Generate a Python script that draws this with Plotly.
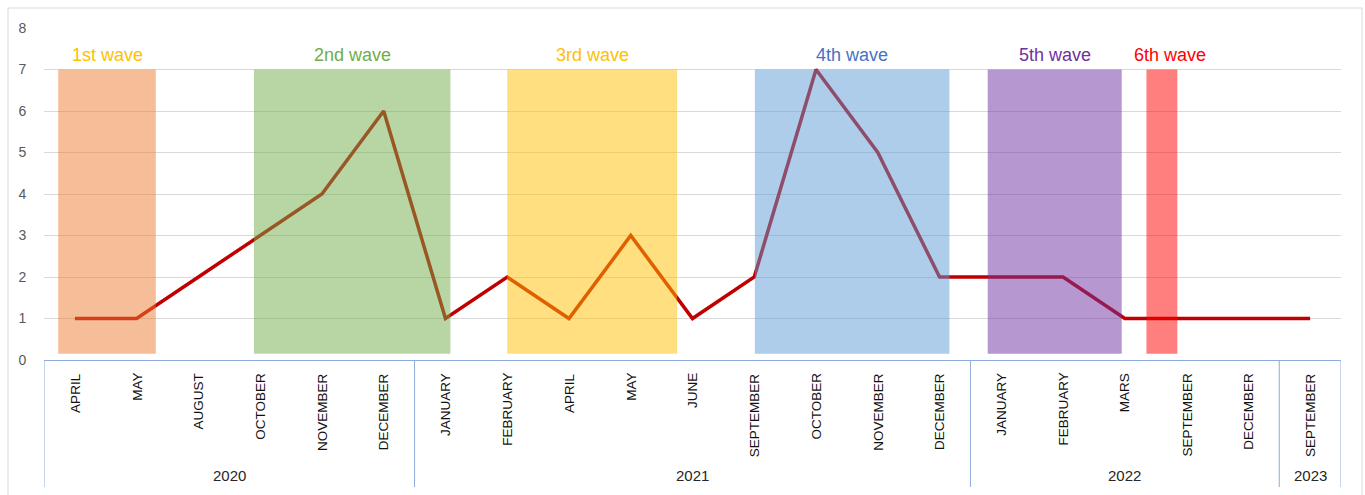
import plotly.graph_objects as go

# Monthly series, grouped by year
months = ["APRIL", "MAY", "AUGUST", "OCTOBER", "NOVEMBER", "DECEMBER",
          "JANUARY", "FEBRUARY", "APRIL", "MAY", "JUNE", "SEPTEMBER", "OCTOBER", "NOVEMBER", "DECEMBER",
          "JANUARY", "FEBRUARY", "MARS", "SEPTEMBER", "DECEMBER",
          "SEPTEMBER"]
years = ["2020"] * 6 + ["2021"] * 9 + ["2022"] * 5 + ["2023"] * 1
values = [1, 1, 2, 3, 4, 6,
          1, 2, 1, 3, 1, 2, 7, 5, 2,
          2, 2, 1, 1, 1,
          1]

# Epidemic waves, expressed on the category index scale
wave_names = ["1st wave", "2nd wave", "3rd wave", "4th wave", "5th wave", "6th wave"]
wave_start = [-0.27, 2.90, 7.00, 11.01, 14.78, 17.35]
wave_end = [1.31, 6.08, 9.75, 14.16, 16.95, 17.85]
wave_label_x = [None, None, None, None, None, 17.73]
wave_top = 7
wave_bottom = 0.15

wave_fill = ["#ED7D31", "#70AD47", "#FFC000", "#5B9BD5", "#7030A0", "#FF0000"]
wave_text = ["#FFC000", "#70AD47", "#FFC000", "#4472C4", "#7030A0", "#FF0000"]

W, H = 1365, 495
ML, MR, MT, MB = 44, 24, 28, 135
PW, PH = W - ML - MR, H - MT - MB


def px_x(p):
    return (p - ML) / PW


def px_y(p):
    return (H - MB - p) / PH


x = list(range(len(months)))

fig = go.Figure()
fig.add_trace(go.Scatter(
    x=x, y=values, mode="lines",
    line=dict(color="#C00000", width=3.5),
    hoverinfo="skip", showlegend=False,
))

shapes = []
annotations = []

# Wave bands drawn semi-transparent over the line
for name, s, e, fc, tc, lx in zip(wave_names, wave_start, wave_end, wave_fill, wave_text, wave_label_x):
    shapes.append(dict(type="rect", xref="x", yref="y", x0=s, x1=e, y0=wave_bottom, y1=wave_top,
                       fillcolor=fc, opacity=0.5, line=dict(width=0), layer="above"))
    annotations.append(dict(x=(s + e) / 2 if lx is None else lx, y=7.36, xref="x", yref="y",
                            text=name, showarrow=False, xanchor="center", yanchor="middle",
                            font=dict(family="Liberation Sans, Arial", size=18, color=tc)))

# Two-level category axis: month labels, year labels and group dividers
axis_blue = "#8FAADC"
for i, m in enumerate(months):
    annotations.append(dict(x=i, y=px_y(371), xref="x", yref="paper", text=m, textangle=-90,
                            showarrow=False, xanchor="center", yanchor="top",
                            font=dict(family="Liberation Sans, Arial", size=13.5, color="#111111")))

groups = []
for i, yv in enumerate(years):
    if not groups or groups[-1][0] != yv:
        groups.append([yv, i, i])
    else:
        groups[-1][2] = i

div_bottom = px_y(487)
for yv, a, b in groups:
    annotations.append(dict(x=(a + b) / 2, y=px_y(476), xref="x", yref="paper", text=yv,
                            showarrow=False, xanchor="center", yanchor="middle",
                            font=dict(family="Liberation Sans, Arial", size=15, color="#262626")))
    shapes.append(dict(type="line", xref="x", yref="paper", x0=a - 0.5, x1=a - 0.5, y0=0, y1=div_bottom,
                       line=dict(color=axis_blue, width=1)))
shapes.append(dict(type="line", xref="x", yref="paper", x0=len(months) - 0.5, x1=len(months) - 0.5,
                   y0=0, y1=div_bottom, line=dict(color=axis_blue, width=1)))

# Chart frame
shapes.append(dict(type="rect", xref="paper", yref="paper", x0=px_x(8), x1=px_x(1362),
                   y0=px_y(520), y1=px_y(8), line=dict(color="#D9D9D9", width=1),
                   fillcolor="rgba(0,0,0,0)", layer="below"))

fig.update_layout(
    width=W, height=H,
    margin=dict(l=ML, r=MR, t=MT, b=MB),
    paper_bgcolor="white", plot_bgcolor="white",
    shapes=shapes, annotations=annotations,
    xaxis=dict(range=[-0.5, len(months) - 0.5], showgrid=False, zeroline=False,
               showticklabels=False, ticks="", showline=True, linecolor=axis_blue, linewidth=1),
    yaxis=dict(range=[0, 8], dtick=1, showgrid=True, gridcolor="#D9D9D9", gridwidth=1,
               zeroline=False, showline=False, ticks="outside", ticklen=14,
               tickcolor="rgba(0,0,0,0)",
               tickfont=dict(family="Liberation Sans, Arial", size=14, color="#595959")),
)

fig.write_html("out.html")
